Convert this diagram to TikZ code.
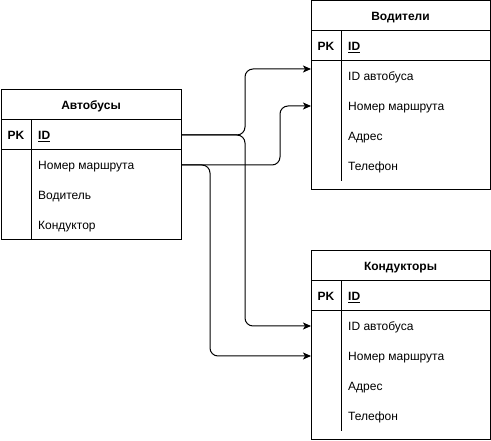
\documentclass[tikz,border=0pt]{standalone}
\usepackage{fontspec}
\setmainfont{Liberation Sans}
\usetikzlibrary{calc,arrows.meta}
\begin{document}
\begin{tikzpicture}[x=1pt,y=-1pt,
  every node/.style={font=\fontsize{12}{14}\selectfont, inner sep=0pt},
  tbl/.style={draw=black, line width=1pt},
  cell/.style={minimum width=180pt, minimum height=30pt, anchor=west, inner sep=0pt},
  title/.style={font=\fontsize{12}{14}\selectfont\bfseries, anchor=base, yshift=-4.5pt},
  pk/.style={font=\fontsize{12}{14}\selectfont\bfseries, anchor=base, yshift=-4.5pt},
  fld/.style={anchor=base west, yshift=-4.5pt},
  link/.style={draw=black, line width=1pt, rounded corners=8pt, -{Stealth[length=8pt,width=7pt,inset=2pt]}}
]
\useasboundingbox (0,0) rectangle (491,441);

% ---------- Автобусы ----------
\draw[tbl] (1,90) rectangle (181,240);
\draw[tbl] (1,120) -- (181,120);
\draw[tbl] (1,150) -- (181,150);
\draw[tbl] (31,120) -- (31,240);
\node[title] (bus-title) at (91,105) {Автобусы};
\node[pk] (bus-pk) at (16,135) {PK};
\node[cell] (bus-id) at (1,135) {};
\node[cell] (bus-route) at (1,165) {};
\node[fld, font=\fontsize{12}{14}\selectfont\bfseries] (bus-idt) at (38,135) {\underline{ID}};
\node[fld] (bus-routet) at (38,165) {Номер маршрута};
\node[fld] (bus-driver) at (38,195) {Водитель};
\node[fld] (bus-cond) at (38,225) {Кондуктор};

% ---------- Водители ----------
\draw[tbl] (311,1) rectangle (490,190);
\draw[tbl] (311,31) -- (490,31);
\draw[tbl] (311,61) -- (490,61);
\draw[tbl] (341,31) -- (341,181);
\node[title] (drv-title) at (400.5,16) {Водители};
\node[pk] (drv-pk) at (326,46) {PK};
\node[fld, font=\fontsize{12}{14}\selectfont\bfseries] (drv-id) at (348,46) {\underline{ID}};
\node[fld] (drv-busid) at (348,76) {ID автобуса};
\node[fld] (drv-route) at (348,106) {Номер маршрута};
\node[fld] (drv-addr) at (348,136) {Адрес};
\node[fld] (drv-tel) at (348,166) {Телефон};
\coordinate (drv-busid-in) at (311,69);
\coordinate (drv-route-in) at (311,106);

% ---------- Кондукторы ----------
\draw[tbl] (311,251) rectangle (490,440);
\draw[tbl] (311,281) -- (490,281);
\draw[tbl] (311,311) -- (490,311);
\draw[tbl] (341,281) -- (341,431);
\node[title] (con-title) at (400.5,266) {Кондукторы};
\node[pk] (con-pk) at (326,296) {PK};
\node[fld, font=\fontsize{12}{14}\selectfont\bfseries] (con-id) at (348,296) {\underline{ID}};
\node[fld] (con-busid) at (348,326) {ID автобуса};
\node[fld] (con-route) at (348,356) {Номер маршрута};
\node[fld] (con-addr) at (348,386) {Адрес};
\node[fld] (con-tel) at (348,416) {Телефон};
\coordinate (con-busid-in) at (311,326);
\coordinate (con-route-in) at (311,356);

% ---------- connectors ----------
\draw[link] (bus-id.east) -- (245,135) -- (245,69) -- (drv-busid-in);
\draw[link] (bus-id.east) -- (245,135) -- (245,326) -- (con-busid-in);
\draw[link] (bus-route.east) -- (280,165) -- (280,106) -- (drv-route-in);
\draw[link] (bus-route.east) -- (210,165) -- (210,356) -- (con-route-in);
\end{tikzpicture}
\end{document}
